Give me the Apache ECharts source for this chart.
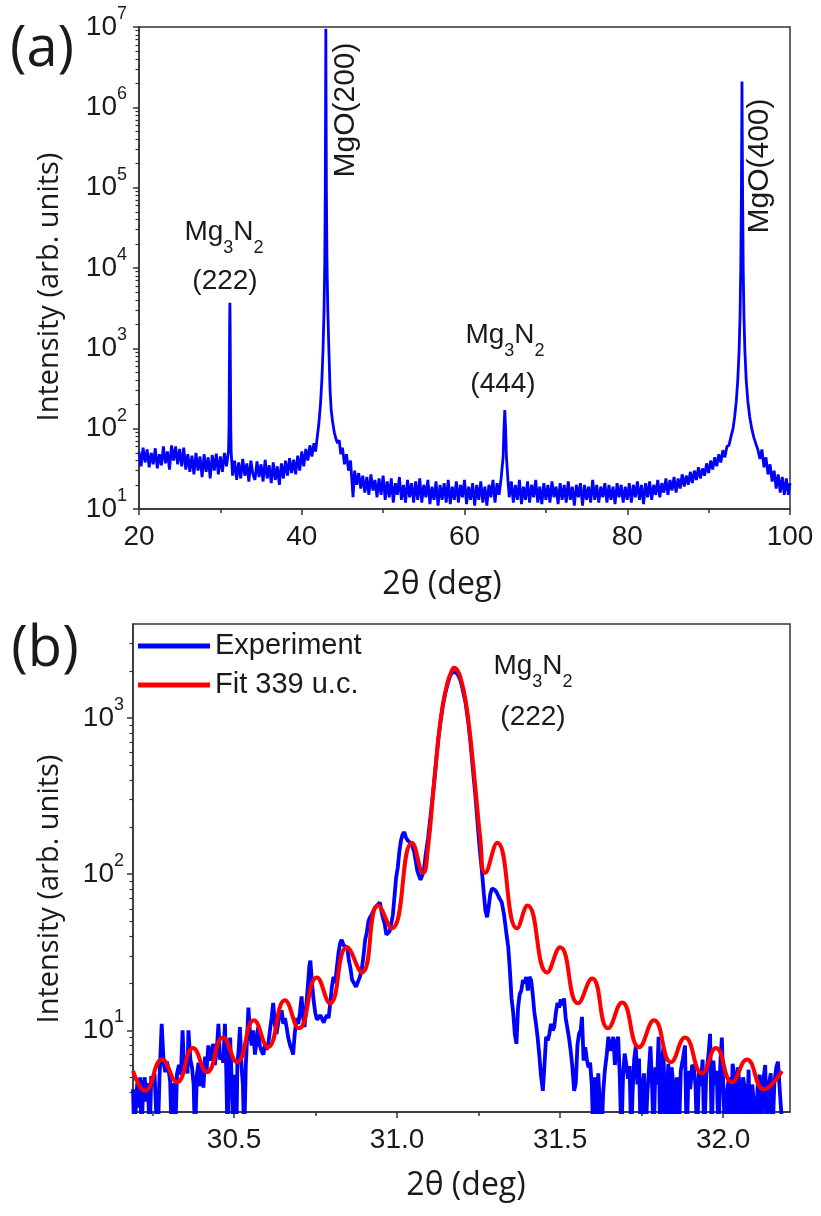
<!DOCTYPE html>
<html><head><meta charset="utf-8">
<script src="https://cdn.jsdelivr.net/npm/echarts@6/dist/echarts.min.js"></script>
<style>html,body{margin:0;padding:0;background:#fff}#c{width:821px;height:1216px}</style>
</head><body><div id="c"></div>
<script>
// ---------- DATA ----------
// Panel (a): full 2theta scan [2theta (deg), intensity]
const scanA = [
[20.00,52],[20.25,34],[20.50,58],[20.75,38],[21.00,55],[21.25,33],[21.50,50],[21.75,36],[22.00,57],[22.25,32],[22.50,48],[22.75,35],
[23.00,60],[23.25,37],[23.50,52],[23.75,31],[24.00,62],[24.25,40],[24.50,60],[24.75,36],[25.00,56],[25.25,34],[25.50,58],[25.75,31],
[26.00,48],[26.25,29],[26.50,46],[26.75,27],[27.00,50],[27.25,30],[27.50,45],[27.75,25],[28.00,48],[28.25,29],[28.50,44],[28.75,24],
[29.00,47],[29.25,30],[29.50,49],[29.75,27],[30.00,45],[30.25,29],[30.50,50],[30.75,34],
[31.00,52],[31.06,100],[31.10,420],[31.14,2000],[31.17,3700],[31.20,2000],[31.24,420],[31.28,100],[31.33,50],
[31.50,26],[31.75,40],[32.00,23],[32.25,38],[32.50,24],[32.75,42],[33.00,26],[33.25,37],[33.50,22],[33.75,40],[34.00,27],[34.25,23],
[34.50,39],[34.75,25],[35.00,36],[35.25,22],[35.50,41],[35.75,24],[36.00,35],[36.25,21],[36.50,38],[36.75,23],[37.00,34],[37.25,20],
[37.50,37],[37.75,24],[38.00,40],[38.25,26],[38.50,43],[38.75,28],[39.00,41],[39.25,27],[39.50,46],[39.75,30],
[40.00,52],[40.25,34],[40.50,56],[40.75,40],[41.00,62],[41.25,45],[41.50,66],[41.70,52],[41.90,78],[42.10,115],[42.30,200],[42.48,420],
[42.62,1000],[42.74,3000],[42.83,12000],[42.89,90000],[42.93,1200000],[42.96,9500000],[42.99,1200000],[43.03,90000],[43.10,12000],
[43.20,3000],[43.33,1000],[43.48,300],[43.62,170],[43.80,120],[44.00,90],[44.20,75],[44.40,66],[44.60,72],[44.80,48],[45.00,58],
[45.25,36],[45.50,48],[45.75,30],[46.00,40],[46.30,14],[46.50,30],[46.75,20],[47.00,28],[47.25,18],[47.50,26],[47.75,16],[48.00,25],
[48.25,15],[48.50,27],[48.75,17],[49.00,23],[49.25,14],[49.50,24],[49.75,15],[50.00,26],[50.25,13],[50.50,22],[50.75,14],[51.00,24],
[51.25,12],[51.50,21],[51.75,15],[52.00,25],[52.25,13],[52.50,20],[52.75,12],[53.00,23],[53.25,14],[53.50,21],[53.75,12],[54.00,22],
[54.25,13],[54.50,24],[54.75,12],[55.00,20],[55.25,14],[55.50,23],[55.75,11.5],[56.00,19],[56.25,13],[56.50,22],[56.75,11],[57.00,20],
[57.25,13],[57.50,21],[57.75,12],[58.00,23],[58.25,11.5],[58.50,19],[58.75,13],[59.00,22],[59.25,12],[59.50,20],[59.75,14],[60.00,23],
[60.25,11.5],[60.50,19],[60.75,13],[61.00,21],[61.25,11],[61.50,20],[61.75,13],[62.00,22],[62.25,12],[62.50,19],[62.75,11],[63.00,20],
[63.25,14],[63.50,23],[63.75,12],[64.00,21],[64.25,15],[64.50,24],[64.75,45],[64.85,100],[64.95,170],[65.05,100],[65.15,45],[65.35,22],
[65.50,14],[65.75,22],[66.00,12],[66.25,20],[66.50,13],[66.75,23],[67.00,11.5],[67.25,19],[67.50,13],[67.75,22],[68.00,12],[68.25,20],
[68.50,14],[68.75,23],[69.00,12],[69.25,19],[69.50,11.5],[69.75,21],[70.00,13],[70.25,20],[70.50,12],[70.75,22],[71.00,14],[71.25,19],
[71.50,11.5],[71.75,21],[72.00,13],[72.25,20],[72.50,12],[72.75,22],[73.00,13],[73.25,19],[73.50,11],[73.75,20],[74.00,14],[74.25,21],
[74.50,11],[74.75,20],[75.00,13],[75.25,19],[75.50,12],[75.75,23],[76.00,13],[76.25,20],[76.50,12],[76.75,19],[77.00,14],[77.25,21],
[77.50,12],[77.75,20],[78.00,13],[78.25,19],[78.50,11.5],[78.75,21],[79.00,14],[79.25,20],[79.50,12],[79.75,19],[80.00,13],[80.25,21],
[80.50,12],[80.75,20],[81.00,14],[81.25,22],[81.50,13],[81.75,20],[82.00,11.5],[82.25,21],[82.50,14],[82.75,22],[83.00,13],[83.25,20],
[83.50,15],[83.75,23],[84.00,14],[84.25,21],[84.50,16],[84.75,24],[85.00,15],[85.25,23],[85.50,17],[85.75,25],[86.00,16],[86.25,24],
[86.50,18],[86.75,27],[87.00,19],[87.25,26],[87.50,20],[87.75,29],[88.00,21],[88.25,30],[88.50,23],[88.75,33],[89.00,24],[89.25,32],
[89.50,26],[89.75,37],[90.00,28],[90.25,40],[90.50,31],[90.75,44],[91.00,34],[91.25,48],[91.50,38],[91.75,54],[92.00,44],[92.25,60],
[92.50,62],[92.75,80],[93.00,100],[93.20,140],[93.40,220],[93.58,400],[93.74,900],[93.86,2500],[93.95,10000],[94.02,70000],
[94.07,500000],[94.10,2100000],[94.13,500000],[94.18,70000],[94.25,10000],[94.34,2500],[94.46,900],[94.62,400],[94.82,220],
[95.05,140],[95.30,100],[95.55,78],[95.80,65],[96.05,55],[96.30,42],[96.55,55],[96.80,33],[97.05,44],[97.30,27],[97.55,36],
[97.80,22],[98.05,30],[98.30,18],[98.55,27],[98.80,16],[99.05,25],[99.30,15],[99.55,24],[99.80,15],[100.00,21]
];
// Panel (b): experiment around Mg3N2(222)
const expB = [
[30.190,4.2],[30.194,2],[30.199,3.4],[30.203,4.6],[30.207,3.2],[30.212,5.0],[30.216,2],[30.221,4.3],[30.226,5.0],[30.231,3.5],[30.236,4.6],[30.241,2],
[30.246,5.1],[30.251,4.4],[30.256,5.3],[30.261,3.0],[30.266,2],[30.271,4.8],[30.278,11],[30.284,6.2],[30.289,5.4],[30.294,6.3],[30.299,5.6],[30.304,4.7],
[30.309,2],[30.314,4.6],[30.319,2],[30.325,5.3],[30.331,6.0],[30.337,5.2],[30.342,10],[30.347,5.4],[30.352,6.1],[30.357,5.3],[30.360,10],[30.366,6.5],
[30.371,5.8],[30.376,4.5],[30.380,2],[30.386,5.2],[30.391,6.2],[30.396,4.4],[30.401,5.8],[30.406,4.3],[30.411,6.8],[30.416,5.6],[30.421,8.0],[30.426,6.4],
[30.431,7.2],[30.436,8.2],[30.441,6.0],[30.447,7.5],[30.452,11],[30.457,6.5],[30.462,7.0],[30.467,6.2],[30.472,11],[30.476,5.5],[30.480,2],[30.484,6.0],
[30.488,9.0],[30.493,4.5],[30.498,2],[30.503,5.2],[30.507,2],[30.510,6.0],[30.514,7.5],[30.518,10.5],[30.523,5.8],[30.527,4.5],[30.531,2],[30.536,6.0],
[30.540,9.0],[30.544,14],[30.549,9.5],[30.554,8.0],[30.559,10],[30.564,7.0],[30.569,8.5],[30.574,10.5],[30.579,8.0],[30.584,7.4],[30.590,7.0],[30.595,8.2],
[30.600,7.5],[30.605,8.2],[30.610,10],[30.615,12],[30.620,15],[30.625,11],[30.630,9.5],[30.635,11],[30.640,12.5],[30.646,13.4],[30.651,11],[30.656,12],
[30.661,10.5],[30.666,9.0],[30.672,8.0],[30.677,7.5],[30.681,7.0],[30.686,9.5],[30.692,12],[30.697,11],[30.702,13],[30.707,16.5],[30.712,12],[30.716,10.5],
[30.721,14],[30.726,19],[30.731,26],[30.734,28],[30.739,20],[30.744,15.5],[30.749,13],[30.754,11.7],[30.760,11.5],[30.765,12.5],[30.770,12.7],[30.775,11.2],
[30.780,12],[30.785,12.5],[30.790,12],[30.795,15],[30.800,19],[30.805,22],[30.810,20],[30.815,25],[30.820,31],[30.825,36],[30.830,38],[30.836,35],
[30.842,36],[30.847,34],[30.852,28],[30.857,25],[30.862,21],[30.868,20],[30.874,19],[30.880,19.5],[30.886,22],[30.892,25],[30.897,30],[30.902,38],
[30.907,42],[30.912,50],[30.917,53],[30.922,55],[30.927,58],[30.932,61],[30.937,60],[30.942,64],[30.947,66],[30.952,58],[30.957,52],[30.962,48],
[30.967,41],[30.972,40],[30.977,43],[30.982,48],[30.987,55],[30.992,72],[30.997,95],[31.002,110],[31.007,140],[31.012,165],[31.017,180],[31.022,186],
[31.027,172],[31.032,165],[31.037,163],[31.042,158],[31.047,150],[31.052,140],[31.057,122],[31.062,105],[31.067,98],[31.072,92],[31.077,91],[31.082,105],
[31.087,130],[31.095,170],[31.103,240],[31.110,330],[31.118,480],[31.125,700],[31.133,950],[31.140,1200],[31.148,1450],[31.155,1650],[31.162,1850],[31.169,1970],
[31.175,2000],[31.181,1960],[31.188,1870],[31.195,1720],[31.202,1500],[31.210,1250],[31.218,950],[31.225,700],[31.232,480],[31.240,320],[31.247,210],[31.254,140],
[31.260,105],[31.266,75],[31.271,58],[31.276,53],[31.281,62],[31.286,75],[31.291,81],[31.296,80],[31.301,79],[31.306,76],[31.311,72],[31.316,70],
[31.321,66],[31.328,55],[31.335,42],[31.341,34],[31.346,24],[31.351,16],[31.356,13],[31.361,9.5],[31.366,8.2],[31.371,14],[31.376,17],[31.381,18],
[31.386,21],[31.391,20],[31.396,22],[31.401,18],[31.406,22],[31.411,21],[31.416,17],[31.421,13],[31.426,11],[31.431,9],[31.436,7],[31.441,5.2],
[31.447,4.1],[31.452,6.0],[31.457,9.1],[31.462,8.6],[31.467,9.5],[31.472,11],[31.477,10],[31.482,10.5],[31.487,13],[31.492,15],[31.497,14],[31.502,15.8],
[31.507,14.5],[31.512,16],[31.517,12],[31.522,10.4],[31.527,9.0],[31.532,7.5],[31.537,6.0],[31.543,4.1],[31.548,4.6],[31.553,8.0],[31.558,9.5],[31.563,10],
[31.567,12.2],[31.572,6.4],[31.577,7.8],[31.582,6.5],[31.587,5.8],[31.592,6.2],[31.597,4.5],[31.602,2],[31.607,5.0],[31.612,2],[31.617,5.3],[31.622,5.2],
[31.627,2],[31.632,4.0],[31.637,5.5],[31.643,7.0],[31.648,9.1],[31.653,7.4],[31.658,8.0],[31.663,9.1],[31.668,6.0],[31.673,8.3],[31.678,9.1],[31.683,5.0],
[31.688,2],[31.693,5.2],[31.698,7.1],[31.703,6.0],[31.708,4.9],[31.713,5.9],[31.718,2],[31.722,3.9],[31.727,6.5],[31.732,7.9],[31.737,4.5],[31.742,6.6],
[31.747,2],[31.752,4.2],[31.757,5.3],[31.762,2],[31.767,3.8],[31.772,5.5],[31.777,7.9],[31.782,4.4],[31.787,2],[31.792,5.8],[31.797,4.5],[31.802,9.1],
[31.807,2],[31.812,6.4],[31.817,7.8],[31.822,2],[31.827,4.1],[31.832,6.1],[31.837,2],[31.842,5.8],[31.847,4.5],[31.852,2],[31.858,5.0],[31.864,2],
[31.870,5.5],[31.876,6.5],[31.883,8.0],[31.888,2],[31.894,5.5],[31.899,4.2],[31.905,6.0],[31.910,5.8],[31.915,4.5],[31.920,2],[31.926,5.5],[31.931,4.4],
[31.937,6.5],[31.942,2],[31.948,5.2],[31.955,7.0],[31.960,9.5],[31.965,2],[31.970,6.4],[31.975,4.5],[31.980,5.5],[31.986,2],[31.991,6.0],[31.996,9.0],
[32.001,4.0],[32.006,2],[32.012,4.1],[32.018,5.0],[32.023,2],[32.029,6.1],[32.034,5.2],[32.039,2],[32.045,5.8],[32.050,4.5],[32.055,2],[32.061,5.0],
[32.067,4.2],[32.072,2],[32.078,5.6],[32.083,2],[32.089,4.5],[32.094,3.5],[32.100,2],[32.106,4.5],[32.112,5.2],[32.117,2],[32.123,4.8],[32.129,6.0],
[32.134,2],[32.140,4.5],[32.146,5.3],[32.151,2],[32.157,4.6],[32.163,5.8],[32.168,6.3],[32.174,4.0],[32.180,4.1],[32.184,2]
];
// Panel (b): fit with 339 unit cells (fringe extrema and main-peak points)
const fitB = [
[30.190,5.5],[30.227,4.1],[30.279,6.5],[30.325,4.66],[30.374,7.7],[30.417,5.4],[30.466,9.0],[30.509,6.25],[30.561,11.6],[30.604,7.8],
[30.656,15.6],[30.699,10.3],[30.754,21.8],[30.794,14.9],[30.846,34],[30.892,23.5],[30.942,63],[30.984,45],[31.046,159],[31.080,102],
[31.095,150],[31.110,320],[31.125,680],[31.140,1200],[31.155,1700],[31.165,1950],[31.175,2100],[31.185,2020],[31.195,1800],[31.210,1300],
[31.225,740],[31.240,360],[31.255,170],[31.270,102],[31.307,159],[31.368,45],[31.400,63],[31.460,23.5],[31.500,34],[31.555,14.9],
[31.598,21.5],[31.647,10.3],[31.690,15.1],[31.742,7.8],[31.788,11.6],[31.840,6.25],[31.883,9.0],[31.935,5.3],[31.978,7.7],[32.027,4.66],
[32.073,6.5],[32.125,4.2],[32.180,5.5]
];
const seriesNames = ['Experiment', 'Fit 339 u.c.'];
const xTicksA = [20, 40, 60, 80, 100];
const yTicksA = [1e1, 1e2, 1e3, 1e4, 1e5, 1e6, 1e7];
const xTicksB = [30.5, 31.0, 31.5, 32.0];
const xMinorB = [30.25, 30.75, 31.25, 31.75];
const yTicksB = [1e1, 1e2, 1e3];

// ---------- STYLE ----------
const NUM = "'Liberation Sans', Arial, sans-serif";
const TTL = "'Open Sans', sans-serif";
const TXT = '#1a1a1a', AX = '#333';
function minorsBetween(lo, hi) {
  const out = [];
  for (let d = 1; d < hi; d *= 10) for (let k = 2; k <= 9; k++) { const v = k * d; if (v > lo * 1.0001 && v < hi * 0.9999) out.push(v); }
  return out;
}
const logLabel = v => '{b|10}{s|' + Math.round(Math.log10(v)) + '}';
const logRich = {
  b: { fontSize: 28, fontFamily: NUM, color: TXT, lineHeight: 44 },
  s: { fontSize: 18, fontFamily: NUM, color: TXT, lineHeight: 18, verticalAlign: 'top' }
};
const axLine = { show: true, lineStyle: { color: AX, width: 1.5 } };
const tickLS = { color: AX, width: 1.5 };

function mainX(gi, min, max, ticks, fmt, extra) {
  return Object.assign({
    gridIndex: gi, type: 'value', min: min, max: max, position: 'bottom',
    axisLine: axLine, splitLine: { show: false },
    axisTick: { show: true, inside: false, length: 6, lineStyle: tickLS, customValues: ticks },
    axisLabel: { customValues: ticks, formatter: fmt, fontSize: 28, fontFamily: NUM, color: TXT, margin: 14 }
  }, extra || {});
}
function overlayX(gi, min, max, vals) {
  return { gridIndex: gi, type: 'value', min: min, max: max, position: 'bottom',
    axisLine: { show: false }, splitLine: { show: false }, axisLabel: { show: false },
    axisTick: { show: true, inside: false, length: 4, lineStyle: tickLS, customValues: vals } };
}
function mainY(gi, min, max, ticks, margin) {
  return { gridIndex: gi, type: 'log', logBase: 10, min: min, max: max, position: 'left',
    axisLine: axLine, splitLine: { show: false },
    axisTick: { show: true, inside: false, length: 6, lineStyle: tickLS, customValues: ticks },
    axisLabel: { customValues: ticks, formatter: logLabel, rich: logRich, margin: margin } };
}
function overlayY(gi, min, max, vals) {
  return { gridIndex: gi, type: 'log', logBase: 10, min: min, max: max, position: 'left',
    axisLine: { show: false }, splitLine: { show: false }, axisLabel: { show: false },
    axisTick: { show: true, inside: false, length: 3.5, lineStyle: { color: AX, width: 1.2 }, customValues: vals } };
}

function txt(x, y, text, size, family, rot) {
  return { type: 'text', x: x, y: y, rotation: rot || 0, z: 100,
    style: { text: text, fontSize: size, fontFamily: family, fill: TXT, align: 'center', verticalAlign: 'middle' } };
}
// chemical formula with subscripts; yTop is top of a 50px line box, base glyphs centred at yTop+25
function chem(x, yTop, text) {
  return { type: 'text', x: x, y: yTop, z: 100,
    style: { text: text, align: 'center', verticalAlign: 'top', fill: TXT,
      rich: {
        b: { fontSize: 28, fontFamily: NUM, fill: TXT, lineHeight: 50 },
        s: { fontSize: 18, fontFamily: NUM, fill: TXT, lineHeight: 18, verticalAlign: 'bottom' }
      } } };
}
const MGN = '{b|Mg}{s|3}{b|N}{s|2}';

const chart = echarts.init(document.getElementById('c'), null, { renderer: 'canvas' });
chart.setOption({
  animation: false,
  backgroundColor: '#fff',
  grid: [
    { left: 139, top: 27, width: 651, height: 482, show: true, borderColor: AX, borderWidth: 1.5, backgroundColor: 'transparent' },
    { left: 133, top: 624, width: 657, height: 488, show: true, borderColor: AX, borderWidth: 1.5, backgroundColor: 'transparent' }
  ],
  xAxis: [
    mainX(0, 20, 100, xTicksA, v => String(v), { interval: 20, minorTick: { show: true, splitNumber: 2, length: 4, lineStyle: tickLS } }),
    mainX(1, 30.19, 32.205, xTicksB, v => v.toFixed(1)),
    overlayX(1, 30.19, 32.205, xMinorB)
  ],
  yAxis: [
    mainY(0, 1e1, 1e7, yTicksA, 12),
    overlayY(0, 1e1, 1e7, minorsBetween(1e1, 1e7)),
    mainY(1, 3, 4000, yTicksB, 9),
    overlayY(1, 3, 4000, minorsBetween(3, 4000))
  ],
  legend: {
    data: seriesNames, orient: 'vertical', left: 138, top: 631, padding: 0,
    icon: 'rect', itemWidth: 72, itemHeight: 5, itemGap: 9,
    textStyle: { fontSize: 29, fontFamily: NUM, color: TXT, lineHeight: 30 }
  },
  series: [
    { type: 'line', name: 'scan', xAxisIndex: 0, yAxisIndex: 0, data: scanA, showSymbol: false, symbol: 'none',
      color: '#0000ff', lineStyle: { color: '#0000ff', width: 2.8 } },
    { type: 'line', name: seriesNames[0], xAxisIndex: 1, yAxisIndex: 2, data: expB, showSymbol: false, symbol: 'none',
      color: '#0000ff', lineStyle: { color: '#0000ff', width: 3.8 } },
    { type: 'line', name: seriesNames[1], xAxisIndex: 1, yAxisIndex: 2, data: fitB, showSymbol: false, symbol: 'none',
      smooth: 0.5, color: '#ff0000', lineStyle: { color: '#ff0000', width: 4 } }
  ],
  graphic: [
    txt(42, 50, '(a)', 56, TTL),
    txt(45, 650, '(b)', 56, TTL),
    txt(50, 287, 'Intensity (arb. units)', 29, TTL, Math.PI / 2),
    txt(50, 889, 'Intensity (arb. units)', 29, TTL, Math.PI / 2),
    txt(442, 585, '2θ (deg)', 32, TTL),
    txt(466, 1186, '2θ (deg)', 32, TTL),
    txt(346, 110, 'MgO(200)', 30, NUM, Math.PI / 2),
    txt(760, 166, 'MgO(400)', 30, NUM, Math.PI / 2),
    chem(224, 207, MGN), txt(225, 281, '(222)', 28, NUM),
    chem(505, 310, MGN), txt(503, 384, '(444)', 28, NUM),
    chem(533, 641, MGN), txt(533, 717, '(222)', 28, NUM)
  ]
});
</script></body></html>
